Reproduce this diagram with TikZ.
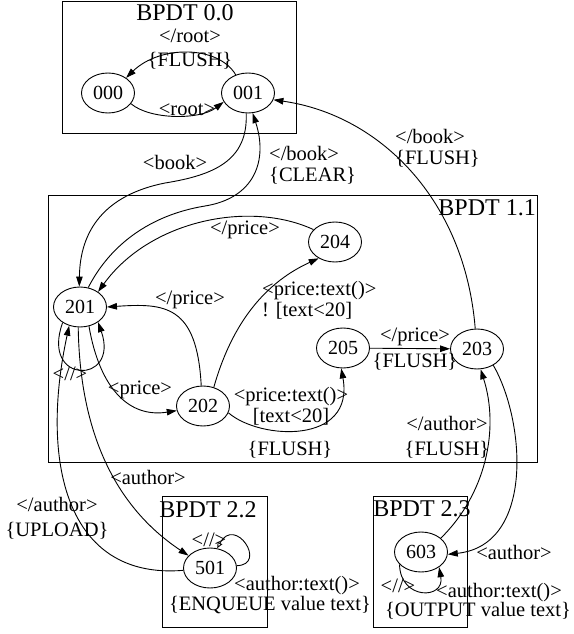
\documentclass[tikz,border=0pt]{standalone}
\usepackage{fontspec}
\setmainfont{Liberation Serif}
\usetikzlibrary{shapes.geometric,arrows.meta}

\begin{document}
\begin{tikzpicture}[x=1pt,y=-1pt,
    state/.style={draw,ellipse,line width=0.9pt,minimum width=53pt,minimum height=40pt,
      inner sep=0pt,font=\fontsize{20}{22}\selectfont},
    lbl/.style={inner sep=0pt,align=center,font=\fontsize{20.5}{21}\selectfont},
    cluster/.style={draw,line width=1pt},
    ctitle/.style={inner sep=0pt,anchor=base,font=\fontsize{24}{26}\selectfont},
    tr/.style={line width=0.9pt,-{Triangle[length=10pt,width=6.5pt]}},
    loopopen/.style={line width=0.9pt,-{Triangle[open,length=6pt,width=5pt]}}]
  \useasboundingbox (0,0) rectangle (573,634);

  % Cluster frames and titles
  \draw[cluster] (62,2) rectangle (296,133);
  \draw[cluster] (48,195) rectangle (537,462);
  \draw[cluster] (162,496) rectangle (267,627);
  \draw[cluster] (373,496) rectangle (467,627);
  \node[ctitle] (t00) at (185,21) {BPDT 0.0};
  \node[ctitle,anchor=base east] (t11) at (536,215) {BPDT 1.1};
  \node[ctitle] (t22) at (208,517) {BPDT 2.2};
  \node[ctitle] (t23) at (422,516) {BPDT 2.3};

  % States
  \node[state] (s000) at (108,93) {000};
  \node[state] (s001) at (248,93) {001};
  \node[state] (s201) at (80,307) {201};
  \node[state] (s204) at (335,242) {204};
  \node[state] (s202) at (203,406) {202};
  \node[state] (s205) at (343,348) {205};
  \node[state] (s203) at (477,349) {203};
  \node[state] (s501) at (210,568) {501};
  \node[state] (s603) at (421,552) {603};

  % BPDT 0.0
  \draw[tr] (s001.124) .. controls (218,45) and (160,45) .. (s000.40);
  \draw[tr] (s000.335) .. controls (150,120) and (200,120) .. (s001.200);
  \node[lbl] (l00) at (190,49) {</root>\\[3pt]\{FLUSH\}};
  \node[lbl] (l01) at (187,110) {<root>};

  % between 0.0 and 1.1
  \draw[tr] (s001.265) .. controls (248,160) and (215,175) .. (165,183)
    .. controls (105,195) and (80,230) .. (s201.92);
  \draw[tr] (s201.67) .. controls (110,245) and (150,215) .. (205,206)
    .. controls (255,198) and (268,160) .. (s001.283);
  \draw[tr] (s203.95) .. controls (465,200) and (380,115) .. (s001.345);
  \node[lbl] (l02) at (175,162) {<book>};
  \node[lbl,anchor=west,align=left] (l03) at (269,165) {</book>\\\{CLEAR\}};
  \node[lbl,anchor=west,align=left] (l04) at (395,148) {</book>\\\{FLUSH\}};

  % BPDT 1.1
  \draw[tr] (s204.150) .. controls (250,200) and (150,220) .. (s201.40);
  \draw[tr] (s202.95) .. controls (197,305) and (165,303) .. (s201.0);
  \draw[tr] (s202.60) .. controls (230,330) and (260,285) .. (s204.225);
  \draw[tr] (s202.345) .. controls (260,440) and (355,445) .. (s205.265);
  \draw[tr] (s205) -- (s203);
  \draw[tr] (s201.295) .. controls (100,390) and (130,418) .. (s202.190);
  \draw[tr] (s201.222) .. controls (40,385) and (120,385) .. (s201.320);
  \node[lbl] (l05) at (245,230) {</price>};
  \node[lbl] (l06) at (190,300) {</price>};
  \node[lbl,anchor=west,align=left] (l07) at (262,300) {<price:text()>\\! [text<20]};
  \node[lbl] (l08) at (291,406) {<price:text()>\\{}[text<20]};
  \node[lbl] (l09) at (290,450) {\{FLUSH\}};
  \node[lbl] (l10) at (415,349) {</price>\\[5pt]\{FLUSH\}};
  \node[lbl] (l14) at (70,374) {<//>};
  \node[lbl] (l22) at (140,390) {<price>};

  % down to BPDT 2.x and back
  \draw[tr] (s201.265) .. controls (80,440) and (120,510) .. (s501.150);
  \draw[tr] (s501.185) .. controls (65,580) and (40,460) .. (s201.240);
  \draw[tr] (s203.315) .. controls (525,420) and (535,545) .. (s603.355);
  \draw[tr] (s603.35) .. controls (485,495) and (500,430) .. (s203.280);
  \node[lbl] (l11) at (447,437) {</author>\\[4pt]\{FLUSH\}};
  \node[lbl] (l12) at (148,477) {<author>};
  \node[lbl] (l13) at (57,518) {</author>\\[4pt]\{UPLOAD\}};
  \node[lbl] (l21) at (514,552) {<author>};

  % BPDT 2.2
  \draw[loopopen] (s501.5) .. controls (268,565) and (235,515) .. (s501.70);
  \node[lbl] (l15) at (209,540) {<//>};
  \node[lbl] (l16) at (297,586) {<author:text()>};
  \node[lbl] (l17) at (270,605) {\{ENQUEUE value text\}};

  % BPDT 2.3
  \draw[tr] (s603.210) .. controls (400,600) and (445,600) .. (s603.320);
  \node[lbl] (l18) at (398,586) {<//>};
  \node[lbl] (l19) at (499,593) {<author:text()>};
  \node[lbl] (l20) at (478,611) {\{OUTPUT value text\}};
\end{tikzpicture}
\end{document}
